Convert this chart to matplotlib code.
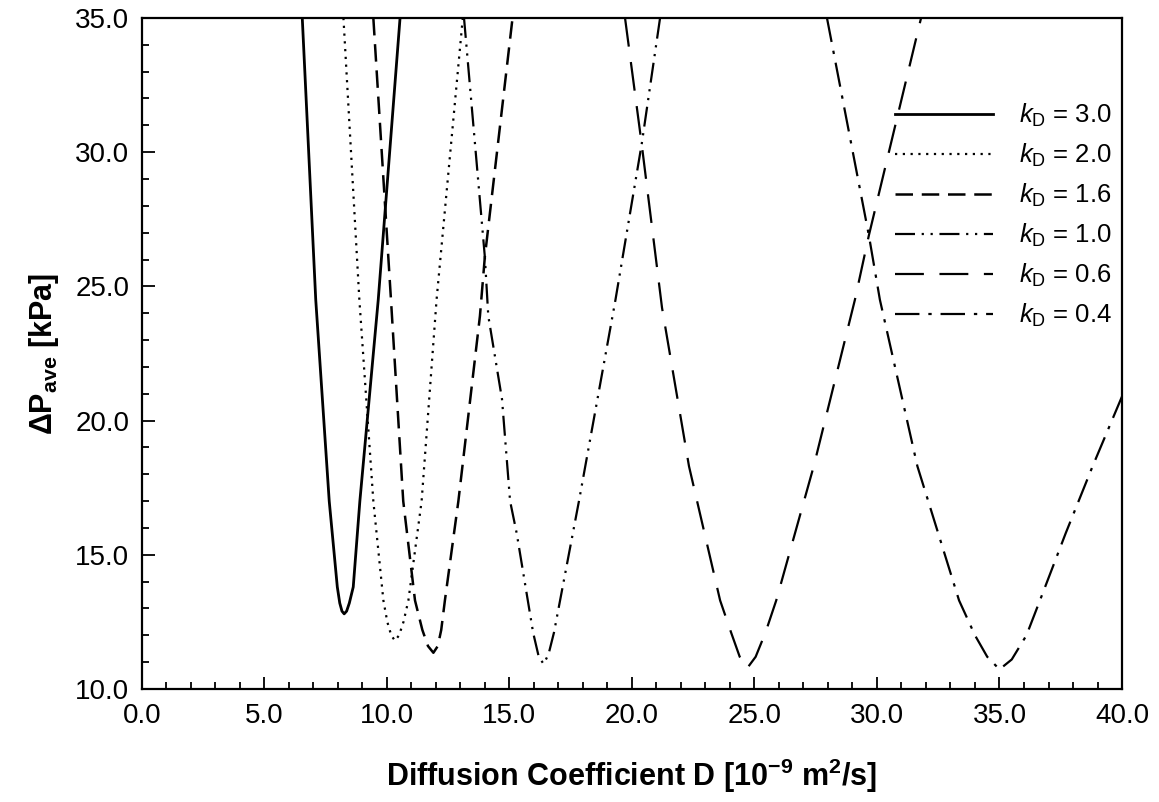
import matplotlib
matplotlib.use("Agg")
import matplotlib.pyplot as plt
from matplotlib import ticker

plt.rcParams["font.family"] = ["Liberation Sans", "DejaVu Sans"]
plt.rcParams["mathtext.fontset"] = "custom"
plt.rcParams["mathtext.rm"] = "Liberation Sans"
plt.rcParams["mathtext.it"] = "Liberation Sans:italic"
plt.rcParams["mathtext.bf"] = "Liberation Sans:bold"

# values: D [1e-9 m2/s], dP_ave [kPa]
d_k30 = [6.55, 7.1, 7.65, 7.98, 8.08, 8.17, 8.26, 8.36, 8.47, 8.63, 8.9, 9.65, 10.54]
p_k30 = [35.0, 24.5, 17.0, 13.8, 13.2, 12.9, 12.8, 12.9, 13.2, 13.8, 17.0, 24.5, 35.0]

d_k20 = [8.23, 8.88, 9.45, 9.86, 10.02, 10.18, 10.33, 10.5, 10.68, 10.88, 11.42, 12.03, 13.1]
p_k20 = [35.0, 24.5, 17.0, 13.3, 12.5, 12.0, 11.8, 12.0, 12.5, 13.3, 17.0, 24.5, 35.0]

d_k16 = [9.45, 10.17, 10.67, 11.15, 11.45, 11.68, 11.9, 12.08, 12.22, 12.37, 12.92, 13.8, 14.0, 15.13]
p_k16 = [35.0, 24.5, 17.0, 13.3, 12.2, 11.6, 11.35, 11.6, 12.2, 13.3, 17.0, 23.9, 26.1, 35.0]

d_k10 = [13.15, 14.0, 14.14, 14.7, 15.03, 15.3, 15.97, 16.2, 16.4, 16.6, 16.82, 17.84, 19.33, 20.4, 21.15]
p_k10 = [35.0, 26.1, 23.9, 20.8, 17.0, 15.8, 12.1, 11.2, 10.93, 11.3, 12.1, 17.0, 24.5, 30.3, 35.0]

d_k06 = [19.72, 20.4, 21.23, 22.33, 23.6, 24.05, 24.4, 24.7, 25.05, 25.45, 25.89, 27.42, 29.1, 29.67, 31.8]
p_k06 = [35.0, 30.3, 24.2, 18.3, 13.3, 12.1, 11.2, 10.77, 11.2, 12.1, 13.3, 18.3, 24.5, 26.9, 35.0]

d_k04 = [27.96, 29.67, 30.12, 31.65, 33.35, 34.0, 34.5, 35.0, 35.5, 36.1, 36.65, 37.7, 38.8, 40.0]
p_k04 = [35.0, 26.9, 24.5, 18.3, 13.3, 12.0, 11.2, 10.73, 11.1, 12.0, 13.3, 15.8, 18.3, 20.9]

labels = ["3.0", "2.0", "1.6", "1.0", "0.6", "0.4"]

series = [(d_k30, p_k30), (d_k20, p_k20), (d_k16, p_k16),
          (d_k10, p_k10), (d_k06, p_k06), (d_k04, p_k04)]
styles = ["-", (0, (1, 2.5)), (0, (7, 3.5)), (0, (9, 3, 1, 3, 1, 3)),
          (0, (13, 7)), (0, (11, 4, 1.5, 4))]
widths = [2.0, 1.6, 1.8, 1.6, 1.6, 1.6]

fig = plt.figure(figsize=(11.59, 8.02), dpi=100)
ax = fig.add_axes([0.1223, 0.1409, 0.8458, 0.8367])

for (d, p), ls, lw, lab in zip(series, styles, widths, labels):
    ax.plot(d, p, color="black", ls=ls, lw=lw, label=r"$k_{\mathrm{D}}$ = " + lab)

ax.set_xlim(0, 40)
ax.set_ylim(10, 35)

ax.xaxis.set_major_locator(ticker.MultipleLocator(5))
ax.xaxis.set_minor_locator(ticker.MultipleLocator(1))
ax.yaxis.set_major_locator(ticker.MultipleLocator(5))
ax.yaxis.set_minor_locator(ticker.MultipleLocator(1))
ax.xaxis.set_major_formatter(ticker.StrMethodFormatter("{x:.1f}"))
ax.yaxis.set_major_formatter(ticker.StrMethodFormatter("{x:.1f}"))

ax.tick_params(which="both", direction="in", top=False, right=False, width=1.3)
ax.tick_params(which="major", length=9, labelsize=20)
ax.tick_params(which="minor", length=5)
ax.tick_params(axis="x", which="major", pad=10)
ax.tick_params(axis="y", which="major", pad=9)

for s in ax.spines.values():
    s.set_linewidth(1.6)

ax.set_xlabel(r"Diffusion Coefficient D [10$^{\mathbf{-9}}$ m$^{\mathbf{2}}$/s]",
              fontsize=22, fontweight="bold", labelpad=20)
ax.set_ylabel(r"ΔP$_{\mathbf{ave}}$ [kPa]", fontsize=22, fontweight="bold", labelpad=10)

leg = ax.legend(loc="upper right", bbox_to_anchor=(1.0, 0.89), frameon=False,
                fontsize=18.5, handlelength=3.8, handletextpad=1.0,
                labelspacing=0.5, borderaxespad=0.0)

fig.savefig("out.png", dpi=100)
